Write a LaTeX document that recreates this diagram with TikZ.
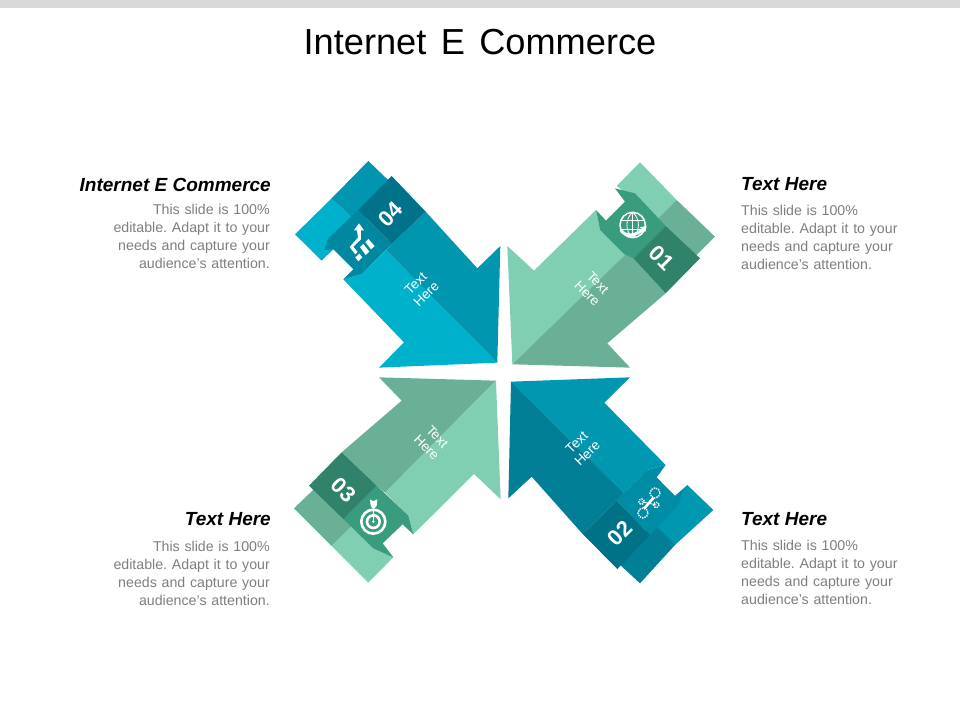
\documentclass[tikz,border=0pt]{standalone}
\usepackage{fontspec}
\setmainfont{Liberation Sans}
\definecolor{tealL}{HTML}{00B1CB}
\definecolor{tealM}{HTML}{0096AF}
\definecolor{tealB}{HTML}{0088A1}
\definecolor{tealD}{HTML}{00738A}
\definecolor{deepL}{HTML}{0097B0}
\definecolor{deepM}{HTML}{007F97}
\definecolor{deepB}{HTML}{008CA4}
\definecolor{deepD}{HTML}{007288}
\definecolor{mintL}{HTML}{80CFB3}
\definecolor{mintM}{HTML}{6AB096}
\definecolor{mintB}{HTML}{3A9C7E}
\definecolor{mintD}{HTML}{31826A}
\definecolor{bodygrey}{HTML}{7F7F7F}
\tikzset{
  zoomed/.style={x=0.3333pt,y=-0.3333pt},
  bodytext/.style={text=bodygrey,font=\fontsize{14.2}{18}\selectfont\frenchspacing,inner sep=0pt,align=#1,text width=170pt},
  headtext/.style={text=black,font=\fontsize{19}{21}\selectfont\bfseries\itshape,inner sep=0pt},
  arrowlabel/.style={text=white,font=\fontsize{13.5}{15}\selectfont,align=center,inner sep=0pt},
  numlabel/.style={text=white,font=\fontsize{22}{24}\selectfont\bfseries,inner sep=0pt},
  iconline/.style={draw=white,line width=1.5pt,fill=none},
  iconthin/.style={draw=white,line width=0.8pt,fill=none}
}
\begin{document}
\begin{tikzpicture}[x=1pt,y=-1pt]
\useasboundingbox (0,0) rectangle (960,720);
\fill[white] (0,0) rectangle (960,720);
\fill[black!15] (0,0) rectangle (960,8);
\node[inner sep=0pt,font=\fontsize{36.2}{40}\selectfont] (title) at (480,42) {Internet\hspace{0.12em} E\hspace{0.12em} Commerce};

% ---- 04
\begin{scope}[shift={(280pt,-150pt)},zoomed]
\fill[tealL] (45,253) -- (155,145) -- (240,225) -- (160,298) -- (125,332) -- cycle;
\fill[tealM] (155,145) -- (265,33) -- (345,110) -- (240,225) -- cycle;
\fill[tealL] (652,638) -- (297,653) -- (372,577) -- (190,388) -- (245,372) -- (318,300) -- cycle;
\fill[tealM] (652,638) -- (661,288) -- (592,355) -- (437,185) -- (335,282) -- (318,300) -- cycle;
\fill[tealB] (235,180) -- (335,282) -- (245,372) -- (190,388) -- (220,358) -- (160,298) -- (132,300) -- (145,265) -- cycle;
\fill[tealD] (335,78) -- (437,185) -- (335,282) -- (235,180) -- cycle;
\fill[white] (237,220) -- (252,241) -- (243,241) -- (243,268) -- (220,290) -- (233,306) -- (226,313) -- (209,291) -- (234,263) -- (231,241) -- (222,241) -- cycle;
\fill[white] (226,322) -- (238,311) -- (247,322) -- (235,334) -- cycle;
\fill[white] (240,291) -- (250,282) -- (268,305) -- (257,315) -- cycle;
\fill[white] (256,276) -- (265,267) -- (284,288) -- (273,298) -- cycle;
\end{scope}
\node[arrowlabel,rotate=45] (t4) at (421,289) {Text\\Here};
\node[numlabel,rotate=45] (n4) at (390.5,214) {04};

% ---- 01
\begin{scope}[shift={(500pt,-150pt)},zoomed]
\fill[mintL] (420,37) -- (530,150) -- (470,210) -- (380,130) -- (350,108) -- cycle;
\fill[mintM] (530,150) -- (645,260) -- (580,325) -- (470,210) -- cycle;
\fill[mintL] (37,643) -- (22,288) -- (102,362) -- (288,180) -- (300,240) -- (380,310) -- cycle;
\fill[mintM] (37,643) -- (390,653) -- (322,580) -- (497,430) -- (400,325) -- (380,310) -- cycle;
\fill[mintB] (288,180) -- (318,212) -- (375,155) -- (345,115) -- (405,130) -- (497,228) -- (400,325) -- (372,312) -- (300,240) -- cycle;
\fill[mintD] (497,228) -- (600,325) -- (497,430) -- (400,325) -- cycle;
\draw[iconline] (398,225) circle[radius=38];
\draw[iconthin] (398,187) .. controls (375,205) and (375,245) .. (398,263);
\draw[iconthin] (398,187) .. controls (421,205) and (421,245) .. (398,263);
\draw[iconthin] (398,187) -- (398,263) (363,212) -- (433,212) (363,238) -- (433,238);
\draw[white,line width=3pt] (362,240) .. controls (380,265) and (410,255) .. (432,236);
\fill[white] (440,228) -- (436,246) -- (420,232) -- cycle;
\end{scope}
\node[arrowlabel,rotate=-45] (t1) at (592.5,288) {Text\\Here};
\node[numlabel,rotate=-45] (n1) at (661.5,258) {01};

% ---- 03
\begin{scope}[shift={(280pt,-370pt)},zoomed]
\fill[mintM] (42,415) -- (110,350) -- (225,460) -- (155,528) -- cycle;
\fill[mintL] (155,528) -- (225,460) -- (300,530) -- (340,562) -- (265,638) -- cycle;
\fill[mintM] (648,32) -- (297,22) -- (365,92) -- (185,247) -- (290,347) -- (315,368) -- cycle;
\fill[mintL] (648,32) -- (662,388) -- (582,312) -- (400,493) -- (385,437) -- (315,368) -- cycle;
\fill[mintB] (290,347) -- (385,437) -- (400,493) -- (368,463) -- (308,520) -- (340,562) -- (280,535) -- (190,447) -- cycle;
\fill[mintD] (185,247) -- (290,347) -- (190,447) -- (87,347) -- cycle;
\draw[white,line width=2.6pt] (280,455) circle[radius=36];
\draw[white,line width=2.6pt] (280,455) circle[radius=19];
\fill[white] (280,455) circle[radius=4];
\draw[white,line width=1pt] (280,455) -- (280,410);
\fill[white] (270,388) -- (280,394) -- (292,388) -- (290,408) -- (280,418) -- (272,408) -- cycle;
\end{scope}
\node[arrowlabel,rotate=-45] (t3) at (432,442) {Text\\Here};
\node[numlabel,rotate=-45] (n3) at (343.5,490) {03};

% ---- 02
\begin{scope}[shift={(500pt,-370pt)},zoomed]
\fill[deepL] (562,345) -- (640,420) -- (525,525) -- (440,450) -- (525,378) -- cycle;
\fill[deepM] (525,525) -- (420,640) -- (355,580) -- (460,460) -- cycle;
\fill[deepL] (33,35) -- (390,22) -- (313,98) -- (497,285) -- (440,300) -- (372,370) -- cycle;
\fill[deepM] (33,35) -- (25,385) -- (95,320) -- (248,492) -- (350,392) -- (372,370) -- cycle;
\fill[deepB] (350,392) -- (440,300) -- (497,285) -- (470,322) -- (525,378) -- (550,358) -- (535,405) -- (450,495) -- cycle;
\fill[deepD] (248,492) -- (350,392) -- (450,495) -- (352,597) -- cycle;
\draw[white,line width=1.4pt,densely dotted] (429,429) circle[radius=15];
\draw[white,line width=1.4pt,densely dotted] (465,369) circle[radius=15];
\draw[white,line width=1.4pt,densely dotted] (425,395) circle[radius=8];
\draw[white,line width=1.4pt,densely dotted] (469,405) circle[radius=8];
\draw[white,line width=2.6pt] (432,416) -- (461,383);
\draw[white,line width=0.8pt] (425,395) -- (469,405);
\end{scope}
\node[arrowlabel,rotate=45] (t2) at (582,448) {Text\\Here};
\node[numlabel,rotate=45] (n2) at (620,533) {02};

% ---- side texts
\node[headtext,anchor=east] (h4) at (271,185) {Internet E Commerce};
\node[bodytext=right,anchor=north east] (b4) at (270,204) {This slide is 100\%\\editable. Adapt it to your\\needs and capture your\\audience's attention.};
\node[headtext,anchor=west] (h1) at (741,184) {Text Here};
\node[bodytext=left,anchor=north west] (b1) at (741,205) {This slide is 100\%\\editable. Adapt it to your\\needs and capture your\\audience's attention.};
\node[headtext,anchor=east] (h3) at (271,519) {Text Here};
\node[bodytext=right,anchor=north east] (b3) at (270,541) {This slide is 100\%\\editable. Adapt it to your\\needs and capture your\\audience's attention.};
\node[headtext,anchor=west] (h2) at (741,519) {Text Here};
\node[bodytext=left,anchor=north west] (b2) at (741,540) {This slide is 100\%\\editable. Adapt it to your\\needs and capture your\\audience's attention.};
\end{tikzpicture}
\end{document}
